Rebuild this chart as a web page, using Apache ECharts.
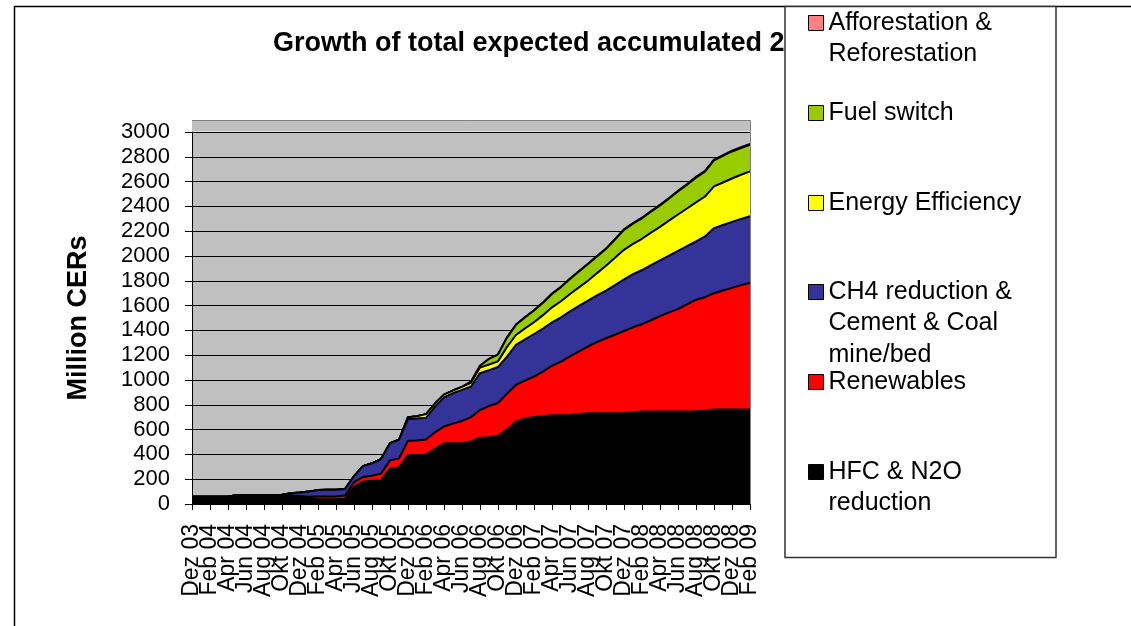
<!DOCTYPE html>
<html>
<head>
<meta charset="utf-8">
<title>Growth of total expected accumulated CERs</title>
<script src="https://cdn.jsdelivr.net/npm/echarts@6/dist/echarts.min.js"></script>
<style>
  html, body { margin: 0; padding: 0; background: #fff; }
  #main { width: 1131px; height: 626px; }
</style>
</head>
<body>
<div id="main"></div>
<script>
// months, Dez 03 .. Feb 09 (every second one is labelled)
const categories = [
  'Dez 03',
  'Jan 04', 'Feb 04', 'Mrz 04', 'Apr 04', 'Mai 04', 'Jun 04', 'Jul 04', 'Aug 04', 'Sep 04', 'Okt 04', 'Nov 04', 'Dez 04',
  'Jan 05', 'Feb 05', 'Mrz 05', 'Apr 05', 'Mai 05', 'Jun 05', 'Jul 05', 'Aug 05', 'Sep 05', 'Okt 05', 'Nov 05', 'Dez 05',
  'Jan 06', 'Feb 06', 'Mrz 06', 'Apr 06', 'Mai 06', 'Jun 06', 'Jul 06', 'Aug 06', 'Sep 06', 'Okt 06', 'Nov 06', 'Dez 06',
  'Jan 07', 'Feb 07', 'Mrz 07', 'Apr 07', 'Mai 07', 'Jun 07', 'Jul 07', 'Aug 07', 'Sep 07', 'Okt 07', 'Nov 07', 'Dez 07',
  'Jan 08', 'Feb 08', 'Mrz 08', 'Apr 08', 'Mai 08', 'Jun 08', 'Jul 08', 'Aug 08', 'Sep 08', 'Okt 08', 'Nov 08', 'Dez 08',
  'Jan 09', 'Feb 09'
]

// million CERs per category (stacked, bottom to top)
const hfc = [58, 58, 58, 58, 60, 70, 70, 70, 70, 70, 70, 68, 62, 50, 38, 38, 38, 42, 140, 180,
  188, 190, 285, 295, 395, 395, 398, 445, 490, 490, 490, 505, 535, 538, 548, 600, 664, 690, 702, 708,
  715, 716, 718, 725, 732, 732, 732, 732, 732, 738, 745, 745, 745, 745, 745, 746, 748, 752, 762, 762,
  762, 762, 762]
const renewables = [0, 0, 0, 0, 0, 0, 0, 0, 0, 0, 0, 0, 0, 8, 22, 22, 22, 26, 35, 38,
  40, 55, 67, 73, 115, 117, 122, 133, 135, 158, 180, 195, 223, 252, 267, 290, 296, 305, 326, 360,
  400, 432, 472, 505, 538, 573, 605, 633, 663, 687, 705, 737, 770, 800, 827, 864, 898, 916, 938, 960,
  981, 1003, 1022]
const ch4 = [0, 0, 0, 0, 0, 0, 0, 0, 0, 0, 4, 18, 30, 42, 52, 54, 54, 52, 50, 87,
  100, 117, 138, 150, 175, 178, 175, 207, 235, 245, 250, 248, 297, 290, 290, 299, 323, 333, 343, 347,
  350, 357, 363, 367, 370, 377, 383, 400, 417, 428, 437, 445, 450, 458, 470, 470, 471, 490, 525, 528,
  532, 534, 536]
const efficiency = [0, 0, 0, 0, 0, 0, 0, 0, 0, 0, 0, 0, 0, 0, 0, 0, 0, 0, 0, 0,
  0, 0, 0, 0, 15, 18, 30, 25, 22, 22, 25, 30, 45, 45, 45, 78, 80, 88, 95, 108,
  121, 130, 141, 150, 160, 180, 202, 220, 238, 245, 252, 262, 270, 282, 293, 303, 315, 322, 336, 343,
  350, 356, 362]
const fuelSwitch = [0, 0, 0, 0, 0, 0, 0, 0, 0, 0, 0, 0, 0, 0, 0, 0, 0, 0, 0, 0,
  0, 0, 0, 0, 0, 0, 0, 0, 0, 0, 0, 8, 15, 45, 55, 75, 82, 88, 94, 100,
  108, 114, 121, 128, 135, 135, 135, 148, 161, 163, 165, 168, 172, 178, 185, 192, 200, 200, 210, 215,
  218, 216, 215]
const afforestation = [0, 0, 0, 0, 0, 0, 0, 0, 0, 0, 0, 0, 0, 0, 0, 0, 0, 0, 0, 0,
  0, 0, 0, 0, 0, 0, 0, 0, 0, 0, 0, 0, 0, 0, 0, 0, 3, 3, 3, 3,
  3, 3, 3, 3, 3, 3, 3, 3, 5, 5, 5, 5, 5, 5, 5, 5, 6, 6, 6, 6,
  6, 6, 6]

// y axis ticks: 0, 200 ... 3000
const yMin = 0
const yMax = 3000
const yStep = 200

// legend entries, top to bottom, with their line breaks
const legendNames = [
  'Afforestation & Reforestation',
  'Fuel switch',
  'Energy Efficiency',
  'CH4 reduction & Cement & Coal mine/bed',
  'Renewables',
  'HFC & N2O reduction',
]
const legendLabels = [
  'Afforestation &\nReforestation',
  'Fuel switch',
  'Energy Efficiency',
  'CH4 reduction &\nCement & Coal\nmine/bed',
  'Renewables',
  'HFC & N2O\nreduction',
]

const FONT = '"Liberation Sans", Arial, Helvetica, sans-serif'
const colors = {
  'HFC & N2O reduction': '#000000',
  'Renewables': '#ff0000',
  'CH4 reduction & Cement & Coal mine/bed': '#333399',
  'Energy Efficiency': '#ffff00',
  'Fuel switch': '#99cc00',
  'Afforestation & Reforestation': '#ff8080',
}

// layout (px)
const plot = { left: 192, right: 750, top: 132, bottom: 504, bgTop: 120 }
const legendRowY = [23, 113, 203, 292, 382, 472]
const LINE_H = 31.5

const chart = echarts.init(document.getElementById('main'))

// lower layers get a higher z so their black outline is not covered by the next fill
function areaSeries(name, data, z) {
  return {
    name: name,
    type: 'line',
    stack: 'cers',
    data: data,
    symbol: 'none',
    z: z,
    silent: true,
    color: colors[name],
    lineStyle: { color: '#000', width: 2 },
    areaStyle: { color: colors[name], opacity: 1 },
    emphasis: { disabled: true },
  }
}

// legend icon sits on the first line: pad the text with empty lines above
const legends = legendNames.map((name, k) => {
  const lines = legendLabels[k].split('\n')
  const text = '\n'.repeat(lines.length - 1) + legendLabels[k]
  const total = 2 * lines.length - 1
  return {
    data: [name],
    orient: 'vertical',
    left: 808,
    top: legendRowY[k] - total * LINE_H / 2,
    padding: 0,
    itemWidth: 15,
    itemHeight: 15,
    icon: 'rect',
    selectedMode: false,
    z: 20,
    itemStyle: { color: colors[name], borderColor: '#000', borderWidth: 1 },
    formatter: () => text,
    textStyle: { fontFamily: FONT, fontSize: 25, color: '#000', lineHeight: LINE_H },
  }
})

const option = {
  animation: false,
  backgroundColor: '#fff',
  title: {
    text: 'Growth of total expected accumulated 20',
    left: 273,
    top: 30,
    padding: 0,
    z: 2,
    textStyle: { fontFamily: FONT, fontSize: 27, fontWeight: 'bold', color: '#000' },
  },
  legend: legends,
  grid: {
    left: plot.left,
    right: 1131 - plot.right,
    top: plot.top,
    bottom: 626 - plot.bottom,
    show: true,
    backgroundColor: '#c0c0c0',
    borderWidth: 0,
    outerBoundsMode: 'none',
  },
  xAxis: {
    type: 'category',
    data: categories,
    boundaryGap: false,
    axisLine: { show: true, lineStyle: { color: '#000', width: 1 } },
    axisTick: { show: true, interval: 1, length: 6, lineStyle: { color: '#000' } },
    axisLabel: {
      // every label is laid out (no overlap hiding), odd months stay blank
      interval: 0,
      formatter: (value, index) => (index % 2 === 0 ? value : ''),
      rotate: 90,
      margin: 20,
      fontFamily: FONT,
      fontSize: 23,
      color: '#000',
    },
    splitLine: { show: false },
  },
  yAxis: {
    type: 'value',
    min: yMin,
    max: yMax,
    interval: yStep,
    name: 'Million CERs',
    nameLocation: 'middle',
    nameGap: 100,
    nameTextStyle: { fontFamily: FONT, fontSize: 27, fontWeight: 'bold', color: '#000' },
    axisLine: { show: true, lineStyle: { color: '#000', width: 1 } },
    axisTick: { show: true, length: 7, lineStyle: { color: '#000' } },
    axisLabel: { margin: 22, fontFamily: FONT, fontSize: 22, color: '#000', formatter: (v) => String(v) },
    splitLine: { show: true, lineStyle: { color: '#000', width: 1 } },
  },
  graphic: [
    // plot area reaches a little above 3000
    {
      type: 'rect', z: 1, silent: true,
      shape: { x: plot.left, y: plot.bgTop, width: plot.right - plot.left, height: plot.top - plot.bgTop - 0.5 },
      style: { fill: '#c0c0c0' },
    },
    {
      type: 'polyline', z: 30, silent: true,
      shape: { points: [[plot.left, plot.bgTop + 0.5], [plot.right + 0.5, plot.bgTop + 0.5], [plot.right + 0.5, plot.bottom]] },
      style: { fill: 'none', stroke: '#808080', lineWidth: 1 },
    },
    // chart frame
    {
      type: 'rect', z: 5, silent: true,
      shape: { x: 14.5, y: 6.5, width: 1400, height: 900 },
      style: { fill: 'none', stroke: '#000', lineWidth: 1.5 },
    },
    // legend box (covers the end of the title)
    {
      type: 'rect', z: 10, silent: true,
      shape: { x: 785, y: 6.5, width: 271, height: 551 },
      style: { fill: '#fff', stroke: '#333', lineWidth: 1.5 },
    },
  ],
  series: [
    areaSeries('HFC & N2O reduction', hfc, 16),
    areaSeries('Renewables', renewables, 15),
    areaSeries('CH4 reduction & Cement & Coal mine/bed', ch4, 14),
    areaSeries('Energy Efficiency', efficiency, 13),
    areaSeries('Fuel switch', fuelSwitch, 12),
    areaSeries('Afforestation & Reforestation', afforestation, 11),
  ],
}

chart.setOption(option)
</script>
</body>
</html>
